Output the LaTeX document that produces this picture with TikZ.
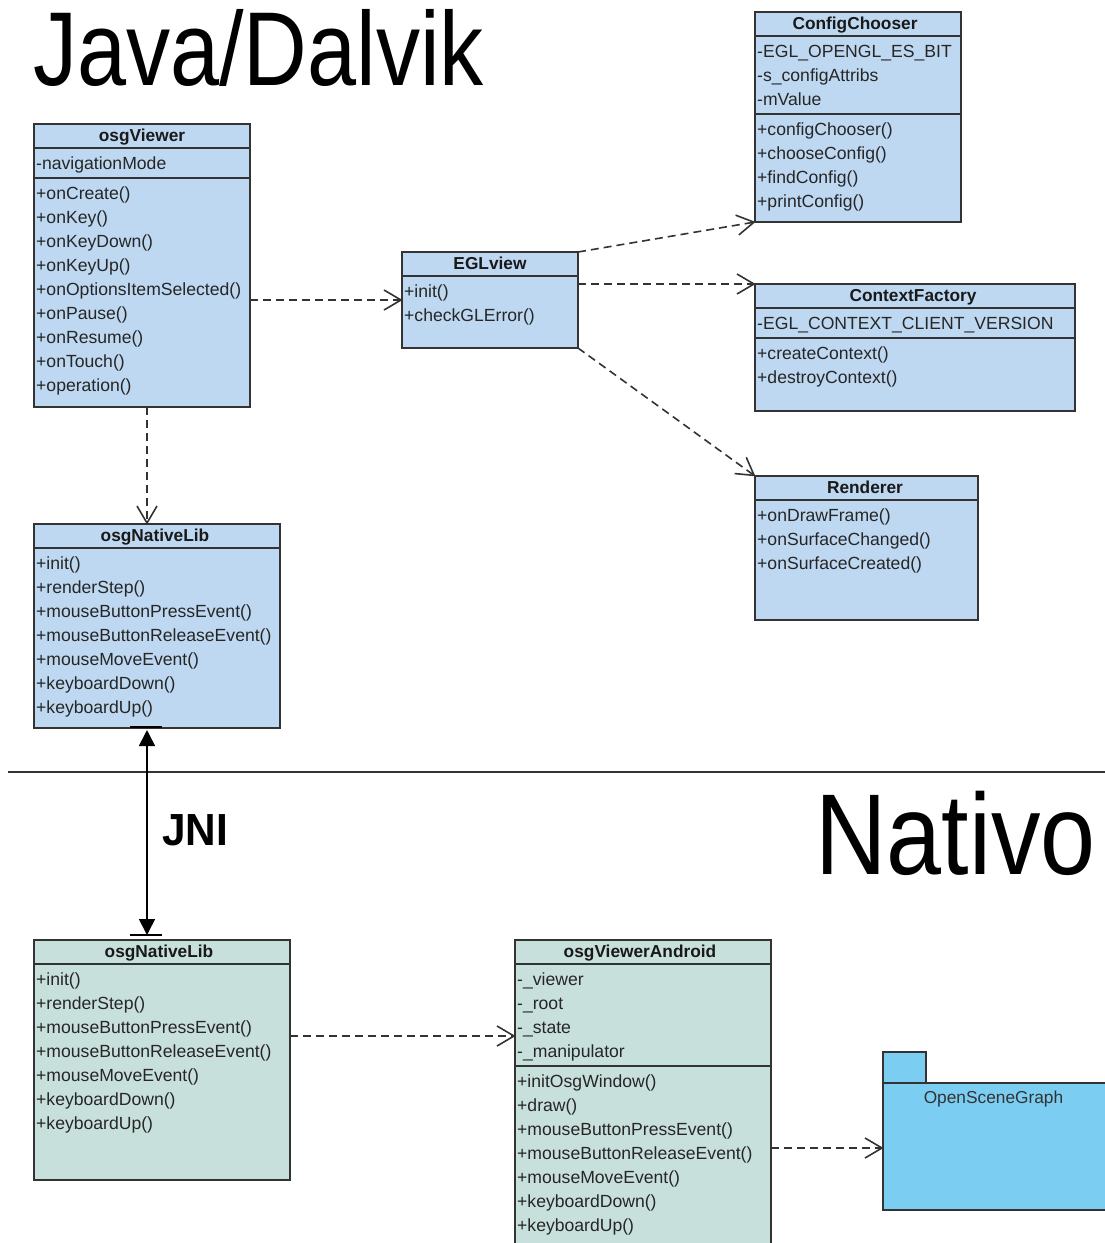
\documentclass[tikz,border=0pt]{standalone}
\usepackage{fontspec}
\setmainfont{Liberation Sans}
\usetikzlibrary{arrows.meta,decorations.markings}
\definecolor{javablue}{HTML}{BED8F1}
\definecolor{natgreen}{HTML}{C8E0DC}
\definecolor{pkgblue}{HTML}{7BCDF2}
\definecolor{edgegray}{HTML}{333333}
\newcommand\umlmembers[4]{\foreach \t [count=\i from 0] in {#4}{\node[mem] (#1\i) at (#2,#3+24*\i) {\t};}}
\newcommand\umlsep[2]{\draw[sepline] ([yshift=-#2pt]#1.north west) -- ([yshift=-#2pt]#1.north east);}
\begin{document}
\begin{tikzpicture}[x=1pt,y=-1pt,
 cls/.style={draw=edgegray, line width=1.6pt, anchor=north west, inner sep=0pt, outer sep=0pt},
 jcls/.style={cls, fill=javablue},
 ncls/.style={cls, fill=natgreen},
 cname/.style={font=\fontsize{17.3}{20}\selectfont\bfseries, text=black!90, anchor=base, inner sep=0pt},
 mem/.style={font=\fontsize{17.6}{20}\selectfont, text=black!85, anchor=base west, inner sep=0pt},
 sepline/.style={draw=edgegray, line width=1.6pt},
 dep/.style={draw=edgegray, line width=1.6pt, dash pattern=on 8pt off 5pt,
   postaction={decorate, decoration={markings, mark=at position 1 with {\draw[solid, draw=edgegray, line width=1.6pt, line join=miter] (-18pt,10pt) -- (-1pt,0pt) -- (-18pt,-10pt);}}}},
 title/.style={anchor=base west, inner sep=0pt, text=black},
]
\useasboundingbox (0,0) rectangle (1105,1243);

% titles
\node[title, font=\fontsize{105}{110}\selectfont, xscale=0.84] (tjava) at (33,85) {Java/Dalvik};
\node[title, font=\fontsize{115}{120}\selectfont, xscale=0.86] (tnat) at (815,874) {Nativo};
\node[title, font=\fontsize{45}{50}\selectfont\bfseries, xscale=0.94] (tjni) at (162,845) {JNI};
\draw[draw=edgegray, line width=1.6pt] (8,772) -- (1105,772);

% osgViewer
\node[jcls, minimum width=216pt, minimum height=283pt] (osgViewer) at (34,124) {};
\umlsep{osgViewer}{24}\umlsep{osgViewer}{54}
\node[cname] (osgViewerN) at (142,141) {osgViewer};
\umlmembers{ova}{36}{169}{-navigationMode}
\umlmembers{ovo}{36}{199}{+onCreate(),+onKey(),+onKeyDown(),+onKeyUp(),+onOptionsItemSelected(),+onPause(),+onResume(),+onTouch(),+operation()}

% EGLview
\node[jcls, minimum width=176pt, minimum height=96pt] (EGLview) at (402,252) {};
\umlsep{EGLview}{24}
\node[cname] (EGLviewN) at (490,269) {EGLview};
\umlmembers{ego}{404}{297}{+init(),+checkGLError()}

% ConfigChooser
\node[jcls, minimum width=206pt, minimum height=210pt] (CC) at (755,12) {};
\umlsep{CC}{24}\umlsep{CC}{102}
\node[cname] (CCN) at (855,29) {ConfigChooser};
\umlmembers{cca}{757}{57}{-EGL\_OPENGL\_ES\_BIT,-s\_configAttribs,-mValue}
\umlmembers{cco}{757}{135}{+configChooser(),+chooseConfig(),+findConfig(),+printConfig()}

% ContextFactory
\node[jcls, minimum width=320pt, minimum height=127pt] (CF) at (755,284) {};
\umlsep{CF}{24}\umlsep{CF}{54}
\node[cname] (CFN) at (913,301) {ContextFactory};
\umlmembers{cfa}{757}{329}{-EGL\_CONTEXT\_CLIENT\_VERSION}
\umlmembers{cfo}{757}{359}{+createContext(),+destroyContext()}

% Renderer
\node[jcls, minimum width=223pt, minimum height=144pt] (Ren) at (755,476) {};
\umlsep{Ren}{24}
\node[cname] (RenN) at (865,493) {Renderer};
\umlmembers{reo}{757}{521}{+onDrawFrame(),+onSurfaceChanged(),+onSurfaceCreated()}

% osgNativeLib (Java)
\node[jcls, minimum width=246pt, minimum height=204pt] (nlJ) at (34,524) {};
\umlsep{nlJ}{24}
\node[cname] (nlJN) at (155,541) {osgNativeLib};
\umlmembers{njo}{36}{569}{+init(),+renderStep(),+mouseButtonPressEvent(),+mouseButtonReleaseEvent(),+mouseMoveEvent(),+keyboardDown(),+keyboardUp()}

% osgNativeLib (native)
\node[ncls, minimum width=256pt, minimum height=240pt] (nlN) at (34,940) {};
\umlsep{nlN}{24}
\node[cname] (nlNN) at (159,957) {osgNativeLib};
\umlmembers{nno}{36}{985}{+init(),+renderStep(),+mouseButtonPressEvent(),+mouseButtonReleaseEvent(),+mouseMoveEvent(),+keyboardDown(),+keyboardUp()}

% osgViewerAndroid
\node[ncls, minimum width=256pt, minimum height=320pt] (ova) at (515,940) {};
\umlsep{ova}{24}\umlsep{ova}{126}
\node[cname] (ovaN) at (640,957) {osgViewerAndroid};
\umlmembers{oaa}{517}{985}{-\_viewer,-\_root,-\_state,-\_manipulator}
\umlmembers{oao}{517}{1087}{+initOsgWindow(),+draw(),+mouseButtonPressEvent(),+mouseButtonReleaseEvent(),+mouseMoveEvent(),+keyboardDown(),+keyboardUp()}

% package
\node[cls, fill=pkgblue, minimum width=43pt, minimum height=31pt] (pkgtab) at (883,1052) {};
\node[cls, fill=pkgblue, minimum width=230pt, minimum height=127pt] (pkg) at (883,1083) {};
\node[font=\fontsize{17.3}{20}\selectfont, text=black!80, anchor=base, inner sep=0pt] (pkgN) at (993.5,1103) {OpenSceneGraph};

% dependencies
\draw[dep] (osgViewer.east |- EGLview.west) -- (EGLview.west);
\draw[dep] (EGLview.north east) -- (CC.south west);
\draw[dep] (EGLview.east |- CF.north west) -- (CF.north west);
\draw[dep] (EGLview.south east) -- (Ren.north west);
\draw[dep] ([xshift=5pt]osgViewer.south) -- ([xshift=5pt]osgViewer.south |- nlJ.north);
\draw[dep] ([yshift=24pt]nlN.east) -- ([yshift=24pt]nlN.east -| ova.west);
\draw[dep] ([yshift=-48pt]ova.east) -- ([yshift=-48pt]ova.east -| pkg.west);

% JNI link
\draw[draw=black, line width=1.6pt, {Triangle[length=16pt,width=16pt]}-{Triangle[length=16pt,width=16pt]}, shorten >=5pt, shorten <=2pt]
  ([xshift=-10pt]nlJ.south) -- ([xshift=-10pt]nlJ.south |- nlN.north);
\draw[draw=black, line width=1.6pt] ([xshift=-27pt,yshift=1pt]nlJ.south) -- ([xshift=5pt,yshift=1pt]nlJ.south);
\draw[draw=black, line width=1.6pt] ([xshift=-32pt,yshift=5pt]nlN.north) -- ([yshift=5pt]nlN.north);
\end{tikzpicture}
\end{document}
